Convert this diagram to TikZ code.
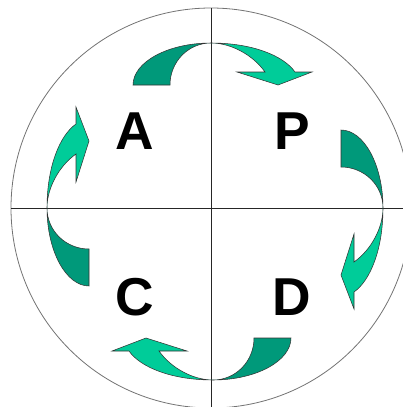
\documentclass[tikz,border=0pt]{standalone}
\usepackage{fontspec}
\setmainfont{Liberation Sans}
\usepackage{xcolor}
\usepackage{tikz}
\usetikzlibrary{positioning}
\definecolor{pdcadark}{RGB}{0,153,122}
\definecolor{pdcalight}{RGB}{0,204,153}

\begin{document}
\begin{tikzpicture}[
   x=0.75pt,y=-0.75pt,
   letter/.style={font=\fontsize{40}{48}\selectfont\bfseries,inner sep=0pt},
   ring/.style={draw=black!55,line width=0.6pt},
   axis/.style={draw=black!85,line width=0.6pt},
   tailpart/.style={draw=black!80,line width=0.4pt,fill=pdcadark},
   headpart/.style={draw=black!80,line width=0.4pt,fill=pdcalight}
  ]
  \useasboundingbox (0,0) rectangle (403,407);
  \clip (0,0) rectangle (403,407);
  \coordinate (mid) at (211,208);

  % circle and cross
  \draw[ring] (mid) circle[radius=200];
  \draw[axis] (mid) ++(0,-200) -- ++(0,400);
  \draw[axis] (mid) ++(-200,0) -- ++(400,0);

  % the four curved arrows (tail dark, head light)
  \foreach \ang/\px/\py in {0/211/43, -90/383/208, 180/213/380, 90/47/208} {
    \begin{scope}[shift={(\px,\py)},rotate=\ang]
      \draw[tailpart] (-78,42) .. controls (-78,19) and (-43,0) .. (0,0)
            .. controls (-23,0) and (-41,19) .. (-41,42) -- cycle;
      \draw[headpart] (0,0) .. controls (40,0) and (72,12) .. (84,29)
            -- (101,29) -- (67,42) -- (26,29) -- (54,29)
            .. controls (42,12) and (20,0) .. (0,0) -- cycle;
    \end{scope}
  }

  % quadrant letters
  \node[letter] (act)   at (135,131) {A};
  \node[letter] (plan)  at (292,131) {P};
  \node[letter] (check) at (135,297) {C};
  \node[letter] (do)    at (292,297) {D};
\end{tikzpicture}
\end{document}
